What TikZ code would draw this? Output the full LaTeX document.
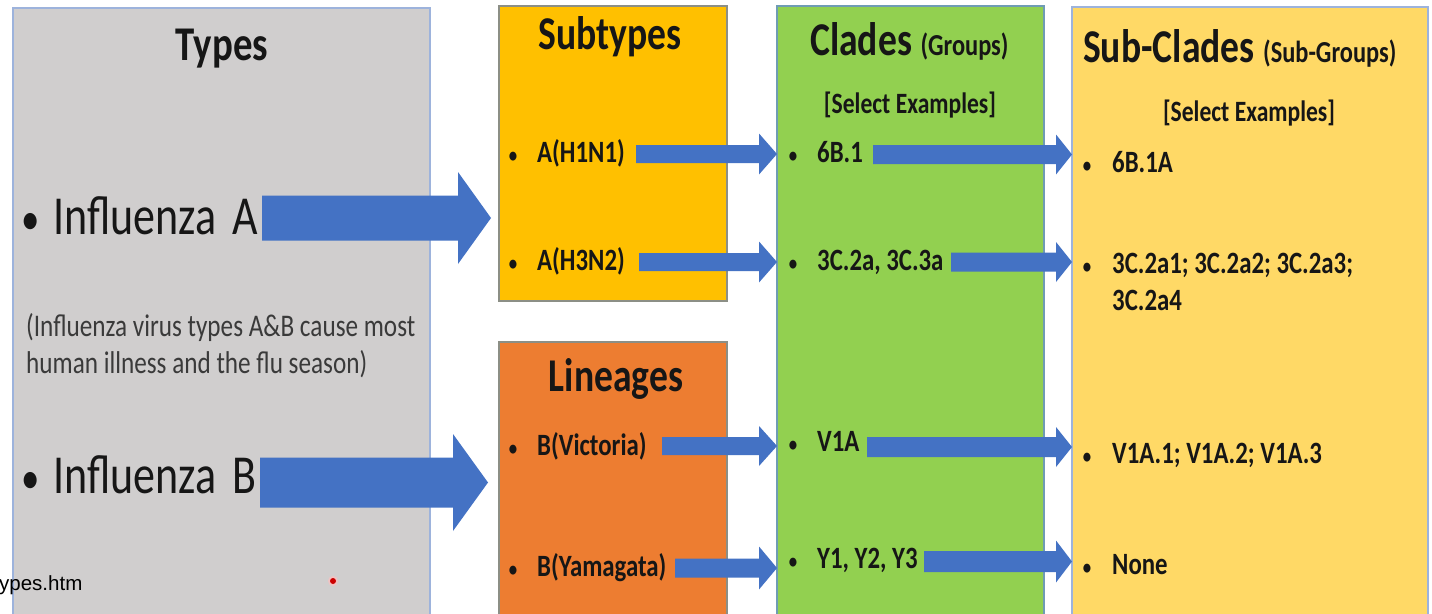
\documentclass[tikz,border=0pt]{standalone}
\usepackage{fontspec}
\setmainfont{Carlito}[FakeStretch=0.8]
\newfontfamily\urlfont{Liberation Sans}
\usetikzlibrary{calc}
\definecolor{typegray}{HTML}{D0CECE}
\definecolor{typeborder}{HTML}{9DB3DC}
\definecolor{subfill}{HTML}{FFC000}
\definecolor{linfill}{HTML}{ED7D31}
\definecolor{cladefill}{HTML}{92D050}
\definecolor{subcfill}{HTML}{FFD966}
\definecolor{boxborder}{HTML}{8C8F86}
\definecolor{cladeborder}{HTML}{6F9CB4}
\definecolor{arrowblue}{HTML}{4472C4}
\definecolor{ink}{HTML}{161616}
\definecolor{noteink}{HTML}{3A3A3A}
\newcommand\blockarr[5]{%
  \fill[arrowblue] ($(#1)+(0,#3)$) -- ($(#2)+(-#5,#3)$) -- ($(#2)+(-#5,#4)$) -- (#2)
    -- ($(#2)+(-#5,-#4)$) -- ($(#2)+(-#5,-#3)$) -- ($(#1)+(0,-#3)$) -- cycle;}
% #1 gap between bullet and text, #2 bullet font size
\newcommand\bul[2]{\llap{{\fontsize{#2}{#2}\selectfont\textbullet}\hspace{#1}}}
\newcommand\parenf{\bfseries\fontsize{30.5}{37}\selectfont}
\tikzset{
  box/.style={line width=1.2pt, anchor=north west, inner sep=0pt, outer sep=0pt},
  titlef/.style={font=\bfseries\fontsize{47}{56}\selectfont, text=ink, inner sep=0pt},
  bigitem/.style={font=\fontsize{55}{66}\selectfont, text=ink, anchor=base west, inner sep=0pt},
  notef/.style={font=\fontsize{31.5}{38}\selectfont, text=noteink, anchor=base west, inner sep=0pt},
  item/.style={font=\bfseries\fontsize{31}{37}\selectfont, text=ink, anchor=base west, inner sep=0pt},
  selex/.style={font=\bfseries\fontsize{29.5}{36}\selectfont, text=ink, anchor=base, inner sep=0pt},
}
\begin{document}
\begin{tikzpicture}[x=1pt,y=-1pt]
\useasboundingbox (0,0) rectangle (1432,613);
\clip (0,0) rectangle (1432,613);
\fill[white] (0,0) rectangle (1432,613);

% boxes
\node[box, draw=typeborder, fill=typegray, minimum width=417pt, minimum height=620pt] (types) at (13,8) {};
\node[box, draw=boxborder, fill=subfill, minimum width=228pt, minimum height=295pt] (sub) at (499,6) {};
\node[box, draw=boxborder, fill=linfill, minimum width=228pt, minimum height=300pt] (lin) at (499,342) {};
\node[box, draw=cladeborder, fill=cladefill, minimum width=267pt, minimum height=620pt] (clade) at (777,6) {};
\node[box, draw=typeborder, fill=subcfill, minimum width=356pt, minimum height=620pt] (subc) at (1072,7) {};

% Types column
\node[titlef, anchor=base, font=\bfseries\fontsize{48.5}{58}\selectfont] (ttypes) at (222,60) {Types};
\node[bigitem] (infA) at (53,234) {\bul{13pt}{46}Influenza\hspace{6pt} A};
\node[notef] (note1) at (26,336) {(Influenza virus types A\&B cause most};
\node[notef] (note2) at (26,373) {human illness and the flu season)};
\node[bigitem] (infB) at (53,493) {\bul{13pt}{46}Influenza\hspace{6pt} B};

% Subtypes / Lineages
\node[titlef, anchor=base] (tsub) at (610,49) {Subtypes};
\node[item] (h1n1) at (537,162) {\bul{20pt}{21}A(H1N1)};
\node[item] (h3n2) at (537,270) {\bul{20pt}{21}A(H3N2)};
\node[titlef, anchor=base] (tlin) at (616,391) {Lineages};
\node[item] (vic) at (537,455) {\bul{20pt}{21}B(Victoria)};
\node[item] (yam) at (537,576) {\bul{20pt}{21}B(Yamagata)};

% Clades
\node[titlef, anchor=base west] (tclade) at (810,55) {Clades {\parenf (Groups)}};
\node[selex] (sel1) at (910,113) {[Select Examples]};
\node[item] (c6b) at (817,162) {\bul{20pt}{21}6B.1};
\node[item] (c3c) at (817,270) {\bul{20pt}{21}3C.2a, 3C.3a};
\node[item] (cv1) at (817,451) {\bul{20pt}{21}V1A};
\node[item] (cy) at (817,568) {\bul{20pt}{21}Y1, Y2, Y3};

% Sub-Clades
\node[titlef, anchor=base west] (tsubc) at (1083,62) {Sub-Clades {\parenf (Sub-Groups)}};
\node[selex] (sel2) at (1249,121) {[Select Examples]};
\node[item] (s6b) at (1112,172) {\bul{21pt}{21}6B.1A};
\node[item] (s3c) at (1112,273) {\bul{21pt}{21}3C.2a1; 3C.2a2; 3C.2a3;};
\node[item] (s3c2) at (1112,310) {3C.2a4};
\node[item] (sv1) at (1112,463) {\bul{21pt}{21}V1A.1; V1A.2; V1A.3};
\node[item] (snone) at (1112,574) {\bul{21pt}{21}None};

% big arrows
\coordinate (sA) at (262,218);
\coordinate (eA) at ($(sub.west |- sA)+(-8,0)$);
\blockarr{sA}{eA}{22.5}{46}{33}
\coordinate (sB) at (260,482.5);
\coordinate (eB) at ($(lin.west |- sB)+(-11,0)$);
\blockarr{sB}{eB}{25}{48.5}{35}

% subtype/lineage -> clade arrows
\coordinate (s1) at (636,154);
\coordinate (e1) at (clade.west |- s1);
\blockarr{s1}{e1}{9}{20.5}{18}
\coordinate (s2) at (639,262);
\coordinate (e2) at (clade.west |- s2);
\blockarr{s2}{e2}{9}{20.5}{18}
\coordinate (s3) at (662,446);
\coordinate (e3) at (clade.west |- s3);
\blockarr{s3}{e3}{9}{20}{18}
\coordinate (s4) at (675,568);
\coordinate (e4) at (clade.west |- s4);
\blockarr{s4}{e4}{9.5}{21.5}{18}

% clade -> sub-clade arrows
\coordinate (s5) at (873,154.5);
\coordinate (e5) at (subc.west |- s5);
\blockarr{s5}{e5}{9.5}{20}{16}
\coordinate (s6) at (951,262);
\coordinate (e6) at (subc.west |- s6);
\blockarr{s6}{e6}{9.5}{20}{16}
\coordinate (s7) at (867,447);
\coordinate (e7) at (subc.west |- s7);
\blockarr{s7}{e7}{10}{20}{16}
\coordinate (s8) at (924,561.5);
\coordinate (e8) at (subc.west |- s8);
\blockarr{s8}{e8}{10.5}{21}{16}

% overlay url fragment and red dot
\node[font=\urlfont\fontsize{20.5}{24}\selectfont, text=black, anchor=base west, inner sep=0pt] (url) at (-1,590) {ypes.htm};
\fill[red!25, opacity=0.7] (333,581) circle (5);
\fill[red!80!black] (333,581) circle (3);
\end{tikzpicture}
\end{document}
